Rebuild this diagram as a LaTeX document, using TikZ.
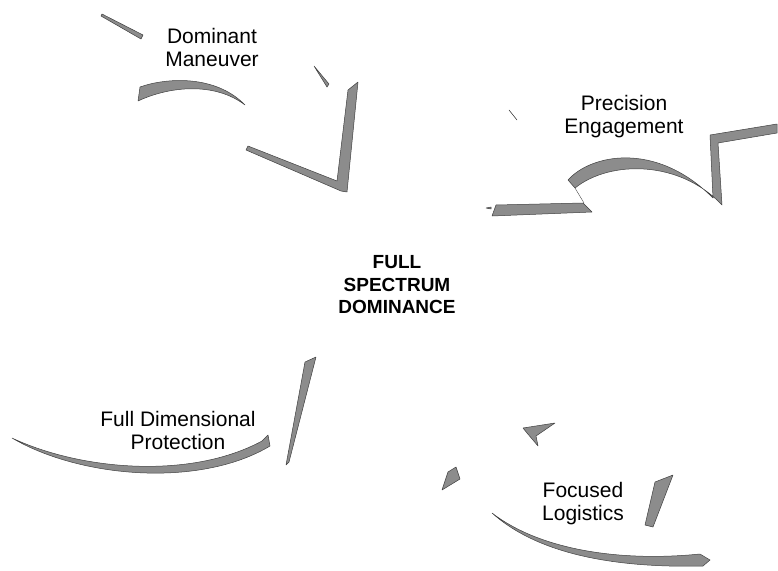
\documentclass[tikz,border=0pt]{standalone}
\usepackage{fontspec}
\setmainfont{Liberation Sans}
\tikzset{
  shard/.style={fill=black!45,draw=black!75,line width=.5pt},
  lbl/.style={align=center,inner sep=0pt,font=\fontsize{21}{23}\selectfont},
}
\begin{document}
\begin{tikzpicture}[x=1pt,y=-1pt,line join=round,line cap=round]
\useasboundingbox (0,0) rectangle (778,570);
% dominant maneuver
\fill[shard] (102,14) -- (143,35) -- (141,39) -- (101,16) -- cycle;
\fill[shard] (140,87) .. controls (165,78) and (215,74) .. (245,105)
             .. controls (215,82) and (170,86) .. (138,101) -- cycle;
\fill[shard] (314,66) -- (329,84) -- (327,87) -- cycle;
\fill[shard] (248,146) -- (337,181) -- (348,90) -- (358,82) -- (347,192) -- (341,191) -- (246,150) -- cycle;
% precision engagement
\fill[shard] (486,208) -- (491,207) -- (491,209) -- cycle;
\fill[shard] (496,205) -- (583,203) -- (592,212) -- (492,216) -- cycle;
\draw[black!75] (575,188) -- (584,203);
\fill[shard] (568,180) .. controls (590,155) and (655,140) .. (713,198) -- (710,135) -- (777,124)
             -- (777,133) -- (718,143) -- (722,205) .. controls (680,160) and (610,160) .. (575,188) -- cycle;
\draw[black!75,line width=.6pt] (509,110) -- (517,120);
% full dimensional protection
\fill[shard] (12,438) .. controls (80,470) and (190,480) .. (262,441) -- (268,435) -- (270,446)
             .. controls (200,488) and (80,478) .. (12,438) -- cycle;
\fill[shard] (305,362) -- (316,357) -- (289,462) -- (286,465) -- cycle;
% focused logistics
\fill[shard] (523,428) -- (555,423) -- (536,436) -- (538,446) -- (527,433) -- cycle;
\fill[shard] (442,490) -- (448,472) -- (456,467) -- (460,479) -- cycle;
\fill[shard] (655,482) -- (673,475) -- (653,527) -- (645,525) -- cycle;
\fill[shard] (492,513) .. controls (540,550) and (620,562) .. (700,554) -- (710,560) -- (703,566)
             .. controls (620,568) and (540,556) .. (492,513) -- cycle;
% labels
\node[lbl] (dm) at (212,47) {Dominant\\Maneuver};
\node[lbl] (pe) at (624,117) {Precision\\Engagement};
\node[lbl,font=\bfseries\fontsize{19}{22.5}\selectfont] (fsd) at (397,285) {FULL\\SPECTRUM\\DOMINANCE};
\node[lbl] (fdp) at (178,430) {Full Dimensional\\Protection};
\node[lbl] (fl) at (583,504) {Focused\\Logistics};
\end{tikzpicture}
\end{document}
